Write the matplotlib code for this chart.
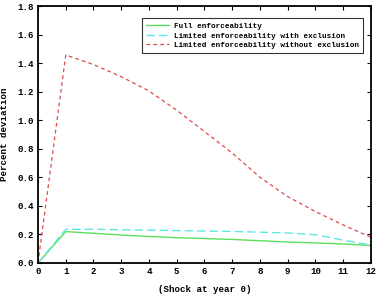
import matplotlib
matplotlib.use("Agg")
import matplotlib.pyplot as plt

years = [0, 1, 2, 3, 4, 5, 6, 7, 8, 9, 10, 11, 12]
full = [0.0, 0.22, 0.208, 0.196, 0.186, 0.177, 0.171, 0.165, 0.156, 0.147, 0.140, 0.133, 0.123]
with_excl = [0.0, 0.236, 0.236, 0.233, 0.230, 0.227, 0.224, 0.221, 0.216, 0.210, 0.198, 0.160, 0.126]
without_excl = [0.0, 1.457, 1.39, 1.305, 1.205, 1.07, 0.92, 0.77, 0.60, 0.465, 0.36, 0.266, 0.18]

xticks = list(range(13))
yticks = [0.0, 0.2, 0.4, 0.6, 0.8, 1.0, 1.2, 1.4, 1.6, 1.8]

plt.rcParams["font.family"] = ["Liberation Mono", "DejaVu Sans Mono"]
plt.rcParams["font.weight"] = "bold"

fig = plt.figure(figsize=(3.78, 2.98), dpi=100)
ax = fig.add_axes([38 / 378, 1 - 263 / 298, (371 - 38) / 378, (263 - 6) / 298])

ax.plot(years, full, color="#5ce05c", lw=1.0, label="Full enforceability")
ax.plot(years, with_excl, color="#5ee6e6", lw=1.0, dashes=(6, 3),
        label="Limited enforceability with exclusion")
ax.plot(years, without_excl, color="#dd4a4a", lw=0.9, dashes=(3, 2.5),
        label="Limited enforceability without exclusion")

ax.set_xlim(0, 12)
ax.set_ylim(0, 1.8)
ax.set_xticks(xticks)
ax.set_yticks(yticks)
ax.set_yticklabels([f"{v:.1f}" for v in yticks])
ax.tick_params(direction="in", top=True, right=True, labelsize=6.6, length=3, width=0.8, pad=3)
for lab in ax.get_xticklabels() + ax.get_yticklabels():
    lab.set_fontweight("bold")
for s in ax.spines.values():
    s.set_linewidth(1.3)

ax.set_xlabel("(Shock at year 0)", fontsize=6.6, fontweight="bold", labelpad=6)
ax.set_ylabel("Percent deviation", fontsize=6.6, fontweight="bold", labelpad=6)

leg = ax.legend(loc="upper right", bbox_to_anchor=(0.976, 0.952), fontsize=5.5,
                frameon=True, fancybox=False, handlelength=3.0, borderpad=0.55,
                labelspacing=0.3, handletextpad=0.6, borderaxespad=0)
leg.get_frame().set_edgecolor("black")
leg.get_frame().set_linewidth(0.8)

fig.savefig("out.png", dpi=100)
